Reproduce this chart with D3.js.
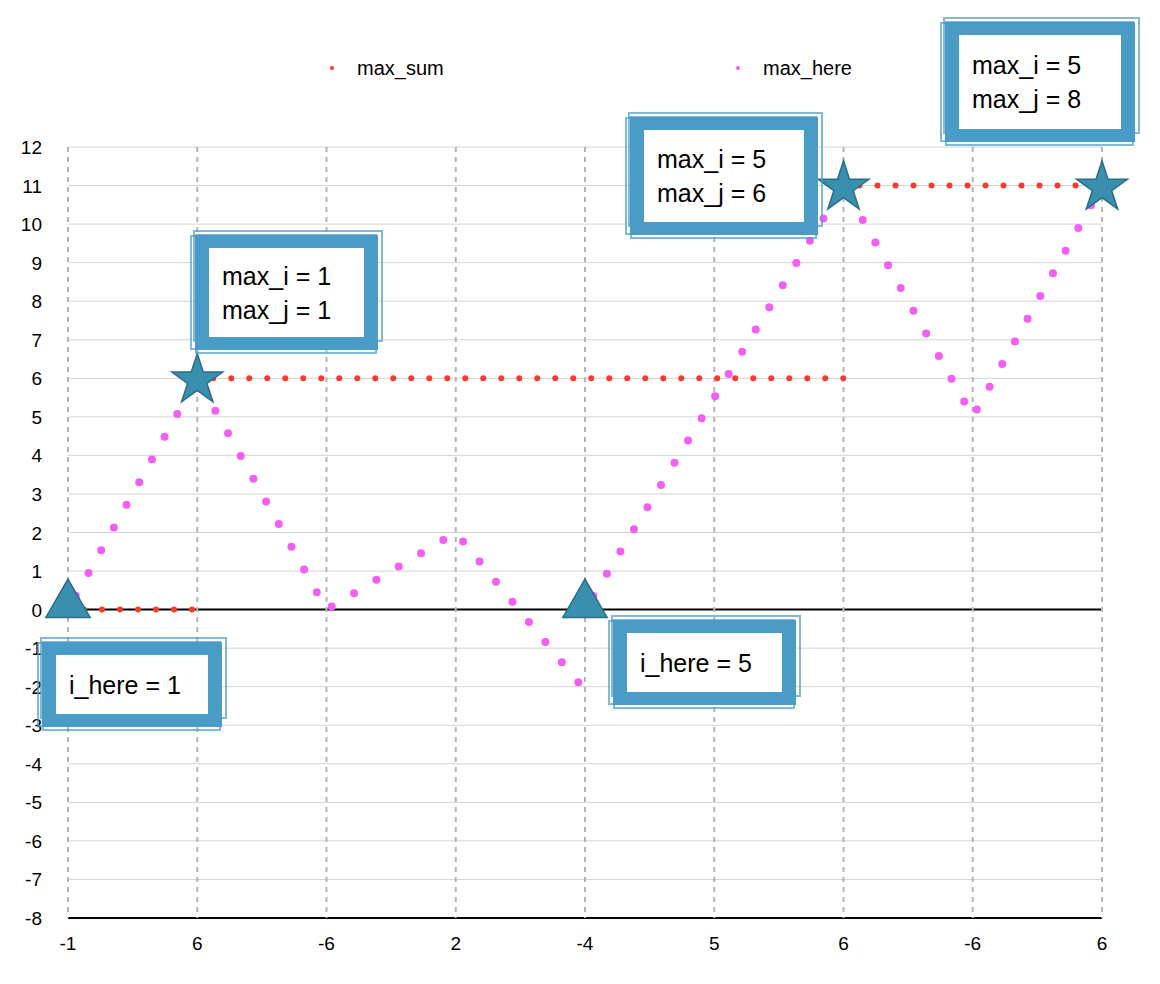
<!DOCTYPE html>
<html><head><meta charset="utf-8">
<script src="https://cdn.jsdelivr.net/npm/d3@7"></script>
<style>body{margin:0;background:#fff}text{font-family:"Liberation Sans",Arial,sans-serif}</style>
</head><body>
<svg id="chart" width="1160" height="984"></svg>
<script>
// categories along x
const categories = ["-1", "6", "-6", "2", "-4", "5", "6", "-6", "6"];
const yTicks = d3.range(-8, 13);

// max_sum segments: [category index, value]
const maxSumSegments = [
  [[0, 0], [1, 0]],
  [[1, 6], [6, 6]],
  [[6, 11], [8, 11]]
];
// max_here segments (reset at i_here = 5)
const maxHereSegments = [
  [[0, 0], [1, 6], [2, 0], [3, 2], [4, -2.1]],
  [[4, 0], [5, 5.5], [6, 11], [7, 5], [8, 11]]
];
const triangles = [[0, 0], [4, 0]];
const stars = [[1, 6], [6, 11], [8, 11]];

// annotation boxes: frame rect, text lines
const notes = [
  {box: [195, 235, 183, 115], lines: ["max_i = 1", "max_j = 1"]},
  {box: [630, 117, 188, 118], lines: ["max_i = 5", "max_j = 6"]},
  {box: [945, 22, 190, 120], lines: ["max_i = 5", "max_j = 8"]},
  {box: [42, 642, 180, 85], lines: ["i_here = 1"]},
  {box: [613, 620, 183, 85], lines: ["i_here = 5"]}
];

const svg = d3.select("#chart");
const x = d3.scalePoint().domain(d3.range(categories.length)).range([68, 1102]);
const y = d3.scaleLinear().domain([-8, 12]).range([918, 147]);

// horizontal grid
svg.append("g").selectAll("line").data(yTicks).join("line")
  .attr("x1", 68).attr("x2", 1102).attr("y1", d => y(d)).attr("y2", d => y(d))
  .attr("stroke", d => (d === 0 || d === -8) ? "#000" : "#d4d4d4")
  .attr("stroke-width", d => (d === 0 || d === -8) ? 2 : 1);

// vertical dashed grid
svg.append("g").selectAll("line").data(d3.range(categories.length)).join("line")
  .attr("x1", d => x(d)).attr("x2", d => x(d)).attr("y1", 147).attr("y2", 918)
  .attr("stroke", "#b5b5b5").attr("stroke-width", 2).attr("stroke-dasharray", "5,5");

// y labels
svg.append("g").selectAll("text").data(yTicks).join("text")
  .attr("x", 42).attr("y", d => y(d) + 7).attr("text-anchor", "end")
  .attr("font-size", 19).text(d => d);
// x labels
svg.append("g").selectAll("text").data(categories).join("text")
  .attr("x", (d, i) => x(i)).attr("y", 950).attr("text-anchor", "middle")
  .attr("font-size", 19).text(d => d);

const line = d3.line().x(d => x(d[0])).y(d => y(d[1]));

svg.append("g").selectAll("path").data(maxHereSegments).join("path")
  .attr("d", line).attr("fill", "none").attr("stroke", "#f55ef5")
  .attr("stroke-width", 8).attr("stroke-linecap", "round").attr("stroke-dasharray", "0,26")
  .attr("stroke-dashoffset", -16);

svg.append("g").selectAll("path").data(maxSumSegments).join("path")
  .attr("d", line).attr("fill", "none").attr("stroke", "#fb3a2c")
  .attr("stroke-width", 6).attr("stroke-linecap", "round").attr("stroke-dasharray", "0,18")
  .attr("stroke-dashoffset", -16);

// legend
const legend = [["max_sum", "#fb3a2c", 332], ["max_here", "#f55ef5", 738]];
legend.forEach(([name, c, lx]) => {
  svg.append("circle").attr("cx", lx).attr("cy", 68).attr("r", 2).attr("fill", c);
  svg.append("text").attr("x", lx + 25).attr("y", 75).attr("font-size", 20).text(name);
});

// markers
const teal = "#3a8fae";
svg.append("g").selectAll("path").data(triangles).join("path")
  .attr("d", d3.symbol(d3.symbolTriangle, 850))
  .attr("transform", d => `translate(${x(d[0])},${y(d[1]) - 5})`)
  .attr("fill", teal).attr("stroke", "#2a6d86").attr("stroke-width", 1.5);
svg.append("g").selectAll("path").data(stars).join("path")
  .attr("d", d3.symbol(d3.symbolStar, 800))
  .attr("transform", d => `translate(${x(d[0])},${y(d[1]) + 2})`)
  .attr("fill", teal).attr("stroke", "#2a6d86").attr("stroke-width", 1.5);

// scribbly framed notes
const blue = "#4a9cc7";
notes.forEach(n => {
  const [bx, by, bw, bh] = n.box;
  const g = svg.append("g");
  g.append("rect").attr("x", bx).attr("y", by).attr("width", bw).attr("height", bh).attr("fill", blue);
  [[3, 2, -3], [-2, 3, 2], [1, -2, 5]].forEach(([dx, dy, s]) => {
    g.append("rect").attr("x", bx + dx - 2).attr("y", by + dy - 2).attr("width", bw + s).attr("height", bh - s)
      .attr("fill", "none").attr("stroke", blue).attr("stroke-width", 2).attr("opacity", 0.7);
  });
  g.append("rect").attr("x", bx + 14).attr("y", by + 13).attr("width", bw - 28).attr("height", bh - 26)
    .attr("fill", "#fff");
  const cy = by + bh / 2;
  const lh = 34;
  n.lines.forEach((t, i) => {
    g.append("text").attr("x", bx + 27).attr("y", cy + (i - (n.lines.length - 1) / 2) * lh + 9)
      .attr("font-size", 25).attr("fill", "#000").text(t);
  });
});
</script>
</body></html>
